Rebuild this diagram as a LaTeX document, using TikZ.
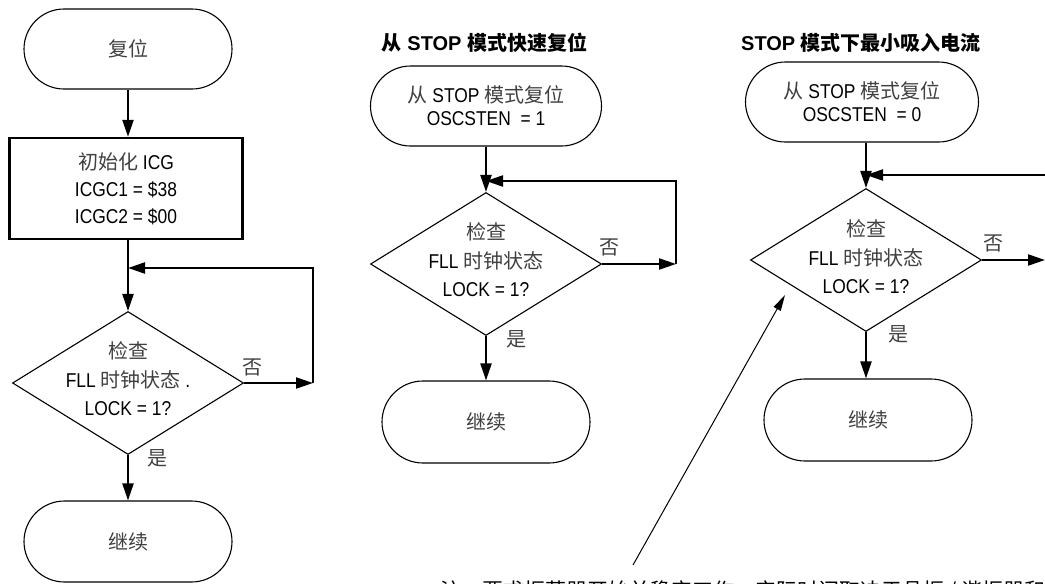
\documentclass[tikz,border=0pt]{standalone}
\usepackage{fontspec}
\setmainfont{Liberation Sans}[FakeStretch=0.87]
\newfontfamily\zhfont{Noto Sans CJK SC}
\newfontfamily\titlefont{Liberation Sans}
\usetikzlibrary{shapes.geometric,shapes.misc,arrows.meta}
\newcommand\zh[1]{{\zhfont\color{black!75}#1}}
\newcommand\zhb[1]{{\zhfont\bfseries #1}}
\tikzset{
 term/.style={rounded rectangle, draw, line width=1.1pt, minimum width=208pt, minimum height=80pt, inner sep=0pt, align=center, font=\fontsize{20}{23}\selectfont},
 procbox/.style={rectangle, draw, line width=2.4pt, minimum width=233pt, minimum height=101pt, inner sep=0pt, align=center, font=\fontsize{20}{27}\selectfont},
 decision/.style={diamond, draw, line width=1.1pt, minimum width=231pt, minimum height=143pt, inner sep=0pt},
 dtext/.style={align=center, inner sep=0pt, font=\fontsize{20}{28.5}\selectfont},
 flow/.style={line width=2.2pt, -{Triangle[length=17pt,width=11pt]}},
 flowline/.style={line width=2.2pt},
 lbl/.style={font=\fontsize{20}{24}\selectfont, inner sep=0pt},
 ttl/.style={font=\titlefont\bfseries\fontsize{20}{24}\selectfont, inner sep=0pt},
 annot/.style={line width=1pt, -{Triangle[length=16pt,width=8pt]}},
}
\begin{document}
\begin{tikzpicture}[x=1pt,y=-1pt]
\useasboundingbox (0,0) rectangle (1045,584);
\clip (0,0) rectangle (1045,584);

% ---------- left column ----------
\node[term] (L1) at (128,49) {\zh{复位}};
\node[procbox] (L2) at (126,188.5) {\zh{初始化} ICG\\ICGC1 = \$38\\ICGC2 = \$00};
\node[decision] (L3) at (128,383) {};
\node[dtext] (L3t) at (128,379) {\zh{检查}\\FLL \zh{时钟状态} .\\LOCK = 1?};
\node[term, minimum height=81pt] (L4) at (128,541.5) {\zh{继续}};
\coordinate (L3r) at (313,383);
\coordinate (L3j) at (128,268);
\draw[flow] (L1.south) -- (L1.south |- L2.north);
\draw[flow] (L2.south -| L3.north) -- (L3.north);
\draw[flow] (L3.east) -- (L3r);
\draw[flow] (L3r) |- (L3j);
\draw[flow] (L3.south) -- (L4.north);
\node[lbl] (L3no) at (252,367) {\zh{否}};
\node[lbl] (L3yes) at (157,458) {\zh{是}};

% ---------- middle column ----------
\node[ttl] (Mt) at (484.5,43) {\zhb{从} STOP \zhb{模式快速复位}};
\node[term, minimum width=231pt] (M1) at (486,106) {\zh{从} STOP \zh{模式复位}\\OSCSTEN\ \ = 1};
\node[decision] (M3) at (486,264) {};
\node[dtext] (M3t) at (486,260) {\zh{检查}\\FLL \zh{时钟状态}\\LOCK = 1?};
\node[term, minimum height=82pt] (M4) at (486,422) {\zh{继续}};
\coordinate (M3r) at (676,264);
\coordinate (M3j) at (486,181);
\draw[flow] (M1.south) -- (M3.north);
\draw[flow] (M3.east) -- (M3r);
\draw[flow] (M3r) |- (M3j);
\draw[flow] (M3.south) -- (M4.north);
\node[lbl] (M3no) at (609,247) {\zh{否}};
\node[lbl] (M3yes) at (516,339) {\zh{是}};

% ---------- right column ----------
\node[ttl] (Rt) at (861,43) {STOP \zhb{模式下最小吸入电流}};
\node[term, minimum width=233pt] (R1) at (862,102) {\zh{从} STOP \zh{模式复位}\\OSCSTEN\ \ = 0};
\node[decision] (R3) at (866,260) {};
\node[dtext] (R3t) at (866,257) {\zh{检查}\\FLL \zh{时钟状态}\\LOCK = 1?};
\node[term, minimum height=82pt] (R4) at (868,420) {\zh{继续}};
\coordinate (R3r) at (1045,260);
\coordinate (R3far) at (1052,260);
\coordinate (R3farj) at (1052,175);
\coordinate (R3j) at (866,175);
\draw[flow] (R1.south -| R3.north) -- (R3.north);
\draw[flow] (R3.east) -- (R3r);
\draw[flowline] (R3r) -- (R3far) -- (R3farj);
\draw[flow] (R3farj) -- (R3j);
\draw[flow] (R3.south) -- (R3.south |- R4.north);
\node[lbl] (R3no) at (993,243) {\zh{否}};
\node[lbl] (R3yes) at (898,334) {\zh{是}};

% ---------- note ----------
\node[anchor=base west, inner sep=0pt, font=\zhfont\fontsize{21}{24}\selectfont] (note) at (440,598) {注：要求振荡器开始并稳定工作，实际时间取决于晶振 / 谐振器和};
\coordinate (noteptr) at (633,565);
\coordinate (R3ann) at (785,295);
\draw[annot] (noteptr) -- (R3ann);
\end{tikzpicture}
\end{document}
